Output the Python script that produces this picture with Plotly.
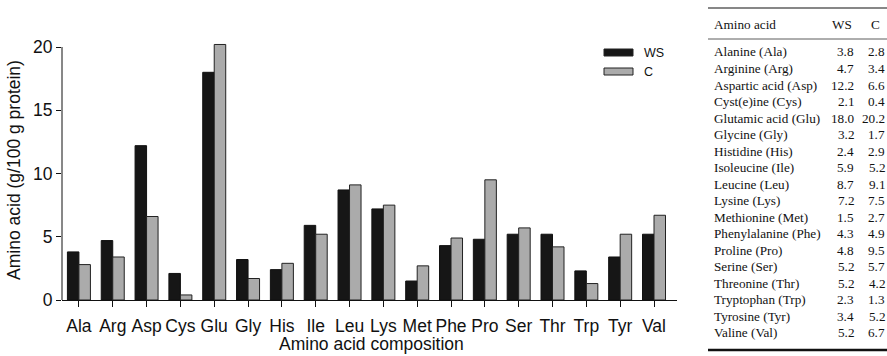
import plotly.graph_objects as go

codes = ["Ala", "Arg", "Asp", "Cys", "Glu", "Gly", "His", "Ile", "Leu",
         "Lys", "Met", "Phe", "Pro", "Ser", "Thr", "Trp", "Tyr", "Val"]
names = ["Alanine (Ala)", "Arginine (Arg)", "Aspartic acid (Asp)", "Cyst(e)ine (Cys)",
         "Glutamic acid (Glu)", "Glycine (Gly)", "Histidine (His)", "Isoleucine (Ile)",
         "Leucine (Leu)", "Lysine (Lys)", "Methionine (Met)", "Phenylalanine (Phe)",
         "Proline (Pro)", "Serine (Ser)", "Threonine (Thr)", "Tryptophan (Trp)",
         "Tyrosine (Tyr)", "Valine (Val)"]
ws = [3.8, 4.7, 12.2, 2.1, 18.0, 3.2, 2.4, 5.9, 8.7, 7.2, 1.5, 4.3, 4.8, 5.2, 5.2, 2.3, 3.4, 5.2]
c = [2.8, 3.4, 6.6, 0.4, 20.2, 1.7, 2.9, 5.2, 9.1, 7.5, 2.7, 4.9, 9.5, 5.7, 4.2, 1.3, 5.2, 6.7]
yticks = [0, 5, 10, 15, 20]

W, H = 887, 356
L, R, T, B = 62, 210, 40, 56
PW, PH = W - L - R, H - T - B

def px(x):
    return (x - L) / PW

def py(y):
    return (H - B - y) / PH

BLACK = "#161616"
GRAY = "#ababab"
SANS = "Liberation Sans, Arial, sans-serif"
SERIF = "Liberation Serif, Times New Roman, serif"
AX = 17.5

fig = go.Figure()
fig.add_bar(x=codes, y=ws, name="WS", marker=dict(color=BLACK, line=dict(color="#111", width=1)))
fig.add_bar(x=codes, y=c, name="C", marker=dict(color=GRAY, line=dict(color="#222", width=1)))

shapes = []
annotations = []

# y axis line only up to 20
shapes.append(dict(type="line", xref="paper", yref="y", x0=0, x1=0, y0=0, y1=20,
                   line=dict(color="#111", width=1)))

# x axis title
annotations.append(dict(xref="paper", yref="paper", x=px(371), y=py(344),
                        text="Amino acid composition", showarrow=False,
                        xanchor="center", yanchor="middle", borderpad=0,
                        font=dict(family=SANS, size=AX, color="#111")))

# legend
for i, (lab, col) in enumerate([("WS", BLACK), ("C", GRAY)]):
    y0 = 49 + i * 19
    shapes.append(dict(type="rect", xref="paper", yref="paper",
                       x0=px(604), x1=px(633), y0=py(y0), y1=py(y0 + 7),
                       fillcolor=col, line=dict(color="#222", width=1)))
    annotations.append(dict(xref="paper", yref="paper", x=px(642), y=py(y0 + 3.5),
                            text=lab, showarrow=False, xanchor="left", yanchor="middle",
                            font=dict(family=SANS, size=12.5, color="#111")))

# table
TX0, TX1 = 708, 887
WSR, CR = 855, 886
shapes.append(dict(type="line", xref="paper", yref="paper", x0=px(TX0), x1=px(TX1),
                   y0=py(8), y1=py(8), line=dict(color="#111", width=1.2)))
shapes.append(dict(type="line", xref="paper", yref="paper", x0=px(TX0), x1=px(TX1),
                   y0=py(39), y1=py(39), line=dict(color="#333", width=0.8)))
shapes.append(dict(type="line", xref="paper", yref="paper", x0=px(TX0), x1=px(TX1),
                   y0=py(350), y1=py(350), line=dict(color="#111", width=2.5)))

tfont = dict(family=SERIF, size=13.2, color="#111")
annotations.append(dict(xref="paper", yref="paper", x=px(713), y=py(24), text="Amino acid",
                        showarrow=False, xanchor="left", yanchor="middle", font=tfont,
                        borderpad=0))
annotations.append(dict(xref="paper", yref="paper", x=px(WSR - 2), y=py(24), text="WS",
                        showarrow=False, xanchor="right", yanchor="middle", font=tfont,
                        borderpad=0))
annotations.append(dict(xref="paper", yref="paper", x=px(881), y=py(24), text="C",
                        showarrow=False, xanchor="right", yanchor="middle", font=tfont,
                        borderpad=0))
for i, (n, a, b) in enumerate(zip(names, ws, c)):
    yy = 52 + i * 16.5
    annotations.append(dict(xref="paper", yref="paper", x=px(713), y=py(yy), text=n,
                            showarrow=False, xanchor="left", yanchor="middle", font=tfont,
                            borderpad=0))
    annotations.append(dict(xref="paper", yref="paper", x=px(WSR), y=py(yy), text=f"{a:.1f}",
                            showarrow=False, xanchor="right", yanchor="middle", font=tfont,
                            borderpad=0))
    annotations.append(dict(xref="paper", yref="paper", x=px(CR), y=py(yy), text=f"{b:.1f}",
                            showarrow=False, xanchor="right", yanchor="middle", font=tfont,
                            borderpad=0))

top = 20 * PH / 253

fig.update_layout(
    width=W, height=H,
    margin=dict(l=L, r=R, t=T, b=B, pad=0),
    paper_bgcolor="white", plot_bgcolor="white",
    showlegend=False,
    barmode="group", bargap=0.32, bargroupgap=0,
    font=dict(family=SANS, size=AX, color="#111"),
    shapes=shapes, annotations=annotations,
    xaxis=dict(type="category", range=[-0.5, 17.68], showline=True, linecolor="#111",
               linewidth=1, ticks="outside", ticklen=6, tickcolor="#111",
               showgrid=False, zeroline=False, ticklabelstandoff=4,
               tickfont=dict(family=SANS, size=AX, color="#111")),
    yaxis=dict(range=[0, top], tickvals=yticks, showline=False, ticks="outside",
               ticklen=5, tickcolor="#111", showgrid=False, zeroline=False,
               ticklabelstandoff=0,
               tickfont=dict(family=SANS, size=AX, color="#111"),
               title=dict(text="Amino acid (g/100 g protein)", standoff=7,
                          font=dict(family=SANS, size=AX, color="#111"))),
)

fig.write_html("out.html", config={"displayModeBar": False},
               post_script="document.body.style.margin='0';document.body.style.overflow='hidden';")
